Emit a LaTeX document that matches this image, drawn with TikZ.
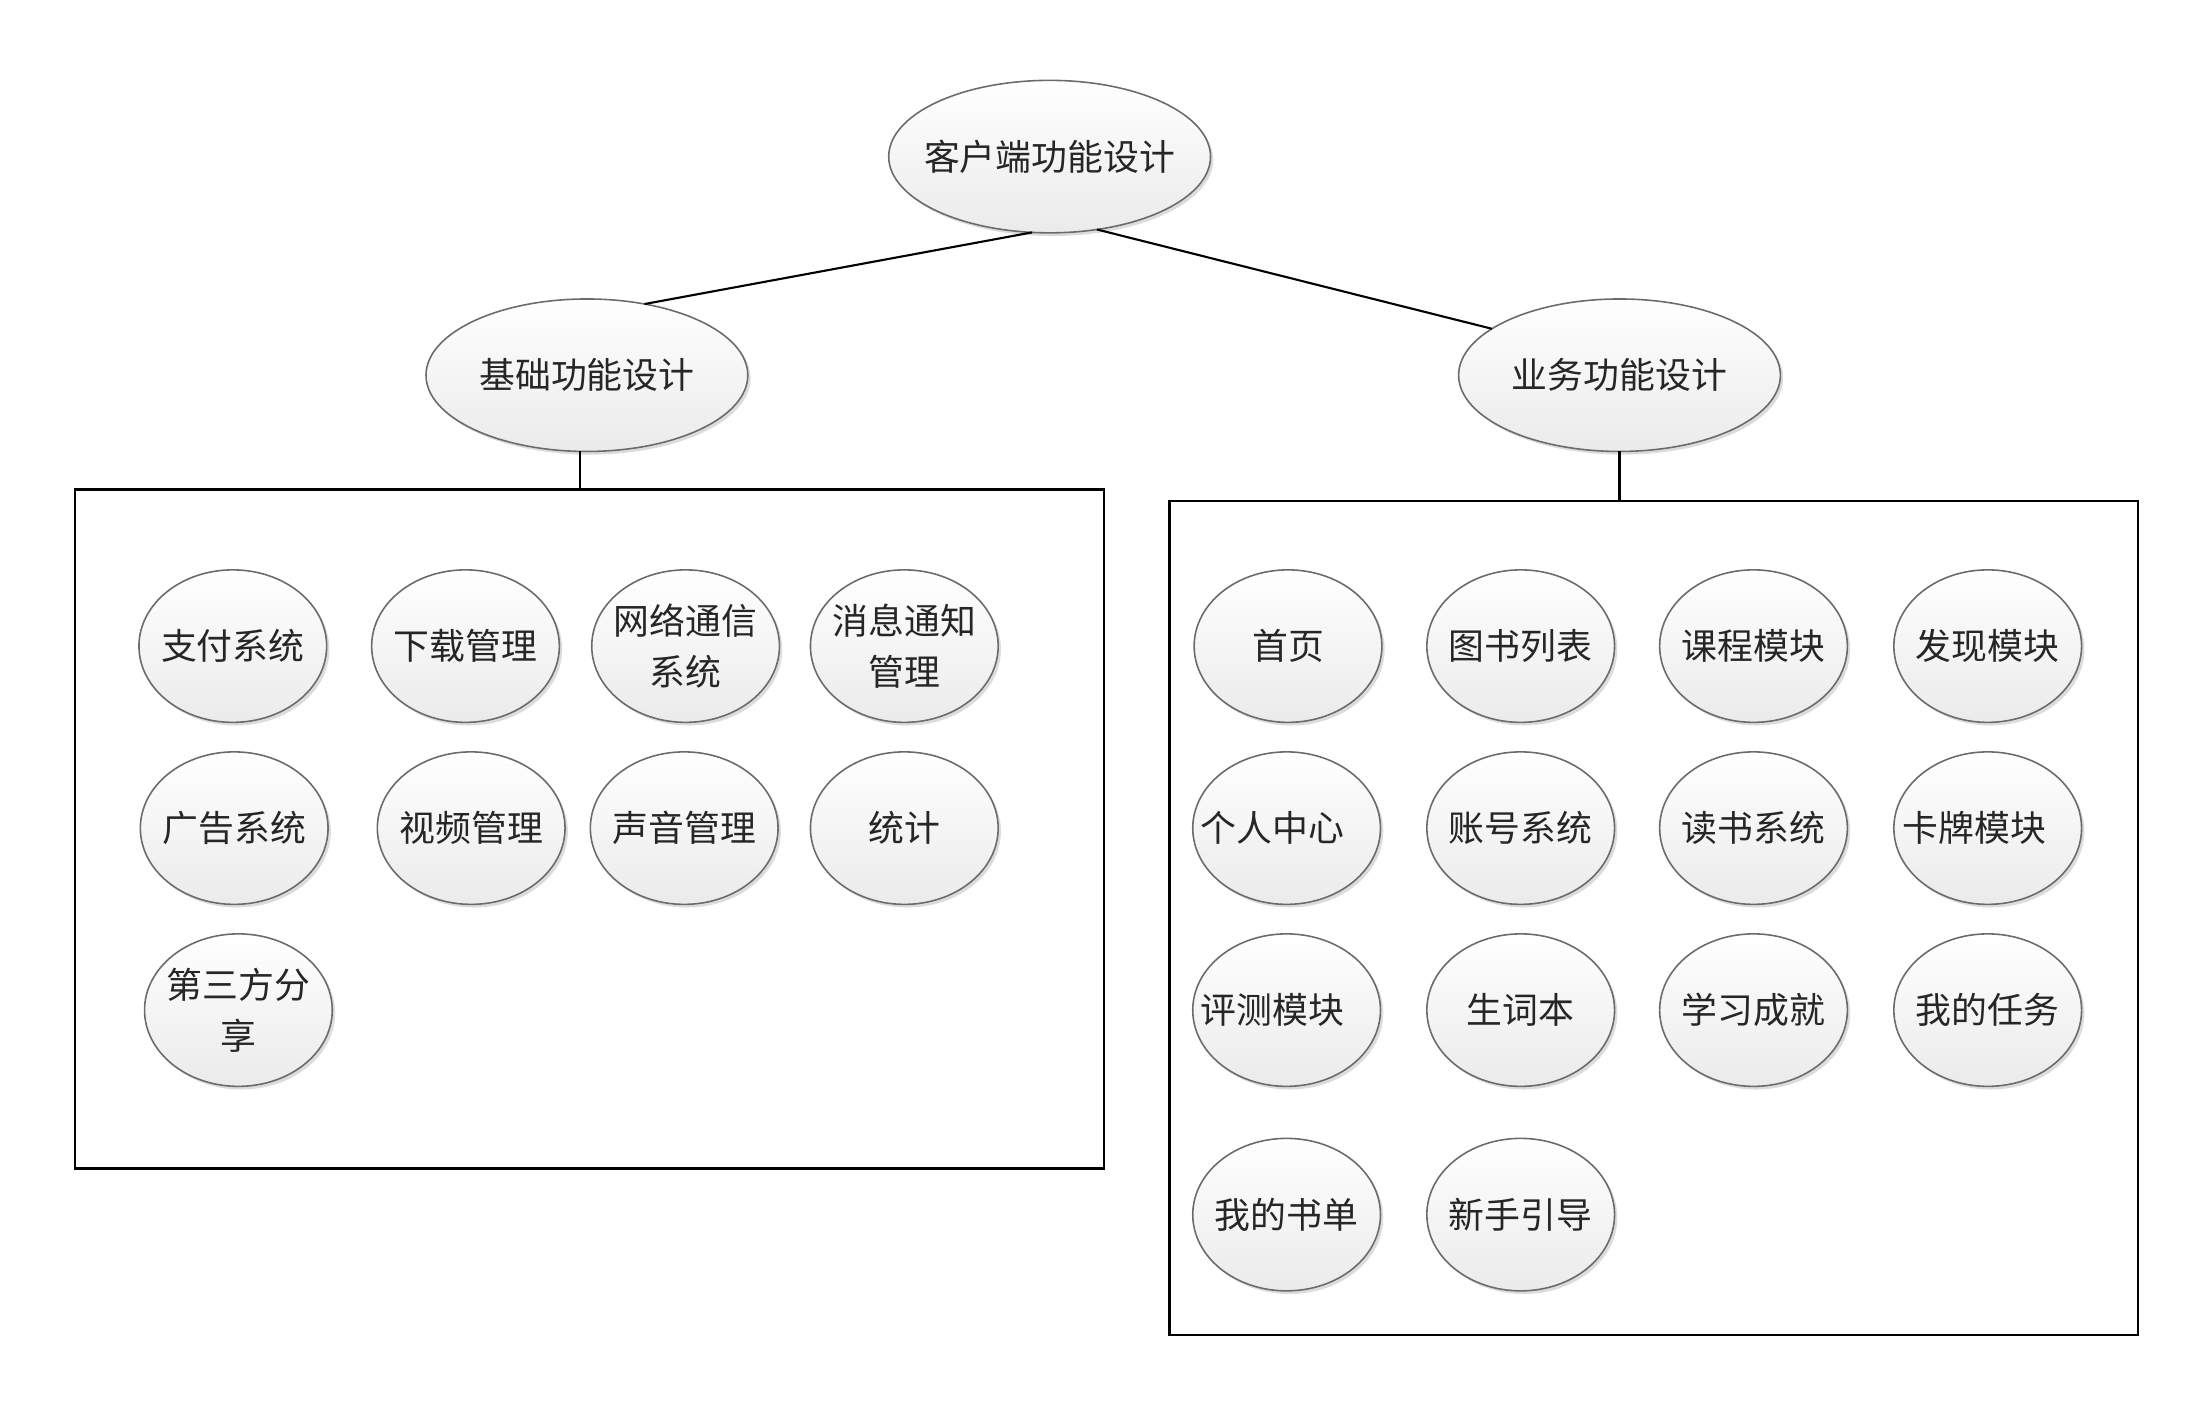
\documentclass[tikz,border=0pt]{standalone}
\usepackage{fontspec}
\newfontfamily\cjk{Noto Sans CJK SC}
\usetikzlibrary{shapes.geometric,shadows}

\begin{document}
\begin{tikzpicture}[x=0.01cm,y=-0.01cm,
  oval/.style={ellipse, draw=black!58, line width=0.45pt,
    top color=white, bottom color=black!8,
    drop shadow={shadow xshift=0.8pt, shadow yshift=-0.9pt, fill=black!30, opacity=0.45},
    inner sep=0pt, outer sep=0pt},
  bigoval/.style={oval, minimum width=3.216cm, minimum height=1.524cm},
  leaf/.style={oval, minimum width=1.876cm, minimum height=1.524cm},
  lbl/.style={inner sep=0pt, align=center,
    font=\cjk\fontsize{10.2}{14.4}\selectfont, text=black!85},
  frame/.style={draw=black, line width=0.6pt, inner sep=0pt, outer sep=0pt, anchor=north west},
  conn/.style={draw=black, line width=0.6pt}]

\useasboundingbox (0,0) rectangle (2212,1408);

% group frames
\node[frame, minimum width=10.284cm, minimum height=6.786cm] (lbox) at (74.8,489.5) {};
\node[frame, minimum width=9.677cm, minimum height=8.337cm] (rbox) at (1169.5,500.8) {};

% top levels
\node[bigoval, label={[lbl]center:客户端功能设计}] (root) at (1049.6,156.6) {};
\node[bigoval, label={[lbl]center:基础功能设计}] (basic) at (586.9,375.2) {};
\node[bigoval, label={[lbl]center:业务功能设计}] (biz) at (1619.5,375.2) {};

% basic functions
\node[leaf, label={[lbl]center:支付系统}] (b1) at (232.8,646.1) {};
\node[leaf, label={[lbl]center:下载管理}] (b2) at (465.5,646.1) {};
\node[leaf, label={[lbl]center:网络通信\\系统}] (b3) at (685.6,646.1) {};
\node[leaf, label={[lbl]center:消息通知\\管理}] (b4) at (904.3,646.1) {};
\node[leaf, label={[lbl]center:广告系统}] (b5) at (234.2,828.1) {};
\node[leaf, label={[lbl]center:视频管理}] (b6) at (471.2,828.1) {};
\node[leaf, label={[lbl]center:声音管理}] (b7) at (684.2,828.1) {};
\node[leaf, label={[lbl]center:统计}] (b8) at (904.3,828.1) {};
\node[leaf, label={[lbl]center:第三方分\\享}] (b9) at (238.4,1010.1) {};

% business functions
\node[leaf, label={[lbl]center:首页}] (r1) at (1288.0,646.1) {};
\node[leaf, label={[lbl]center:图书列表}] (r2) at (1520.7,646.1) {};
\node[leaf, label={[lbl]center:课程模块}] (r3) at (1753.5,646.1) {};
\node[leaf, label={[lbl]center:发现模块}] (r4) at (1987.7,646.1) {};
\node[leaf, label={[lbl,xshift=-0.14cm]center:个人中心}] (r5) at (1286.6,828.1) {};
\node[leaf, label={[lbl]center:账号系统}] (r6) at (1520.7,828.1) {};
\node[leaf, label={[lbl]center:读书系统}] (r7) at (1753.5,828.1) {};
\node[leaf, label={[lbl,xshift=-0.13cm]center:卡牌模块}] (r8) at (1987.7,828.1) {};
\node[leaf, label={[lbl,xshift=-0.14cm]center:评测模块}] (r9) at (1286.6,1010.1) {};
\node[leaf, label={[lbl]center:生词本}] (r10) at (1520.7,1010.1) {};
\node[leaf, label={[lbl]center:学习成就}] (r11) at (1753.5,1010.1) {};
\node[leaf, label={[lbl]center:我的任务}] (r12) at (1987.7,1010.1) {};
\node[leaf, label={[lbl]center:我的书单}] (r13) at (1286.6,1214.6) {};
\node[leaf, label={[lbl]center:新手引导}] (r14) at (1520.7,1214.6) {};

% connectors
\draw[conn] (root.257.7) -- (basic.51.7);
\draw[conn] (root.303.2) -- (biz.160.2);
\draw[conn] (basic.265) -- (basic.265 |- lbox.north);
\draw[conn] (biz.south) -- (biz.south |- rbox.north);
\end{tikzpicture}
\end{document}
